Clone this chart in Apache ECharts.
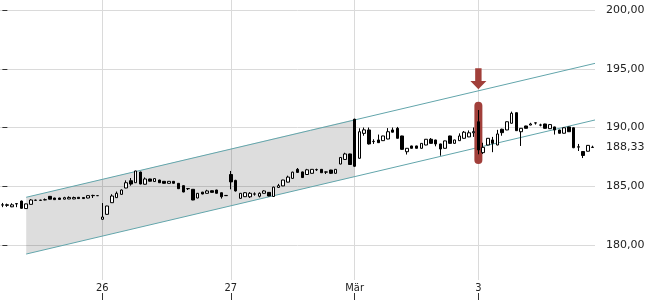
<!DOCTYPE html>
<html>
<head>
<meta charset="utf-8">
<script src="https://cdn.jsdelivr.net/npm/echarts@6/dist/echarts.min.js"></script>
<style>
    html, body { margin: 0; padding: 0; background: #fff; }
    #chart { width: 650px; height: 300px; }
</style>
</head>
<body>
<div id="chart"></div>
<script>
// one candle per slot: [open, close, low, high]
var candles = [
    [183.40, 183.42, 183.22, 183.58], [183.42, 183.38, 183.25, 183.52], [183.25, 183.42, 183.22, 183.55],
    [183.52, 183.50, 183.22, 183.55], [183.74, 183.12, 183.10, 183.78], [183.10, 183.50, 183.08, 183.52],
    [183.46, 183.83, 183.44, 183.90], [183.80, 183.82, 183.76, 183.86], [183.82, 183.80, 183.76, 183.85],
    [183.84, 183.86, 183.80, 183.96], [184.14, 183.90, 183.88, 184.16], [184.00, 183.86, 183.84, 184.02],
    [184.00, 183.88, 183.86, 184.02], [183.90, 184.03, 183.88, 184.10], [183.92, 184.05, 183.90, 184.14],
    [183.92, 184.04, 183.90, 184.12], [184.06, 183.95, 183.93, 184.08], [184.04, 183.95, 183.93, 184.06],
    [184.00, 184.20, 183.98, 184.22], [184.20, 184.22, 184.00, 184.28], [184.20, 184.20, 184.18, 184.22],
    // 26
    [182.19, 182.38, 182.17, 183.57], [182.61, 183.32, 182.59, 183.34], [183.60, 184.17, 183.58, 184.32],
    [184.03, 184.40, 184.01, 184.55], [184.31, 184.68, 184.29, 184.72], [184.85, 185.30, 184.83, 185.50],
    [185.47, 185.19, 185.05, 185.70], [185.30, 186.30, 185.28, 186.32], [186.21, 185.19, 185.17, 186.24],
    [185.17, 185.62, 185.15, 185.75], [185.62, 185.43, 185.41, 185.64], [185.40, 185.65, 185.38, 185.67],
    [185.53, 185.30, 185.28, 185.55], [185.42, 185.25, 185.23, 185.44], [185.25, 185.42, 185.23, 185.44],
    [185.42, 185.25, 185.23, 185.44], [185.25, 184.79, 184.77, 185.27], [185.05, 184.51, 184.49, 185.07],
    [184.80, 184.79, 184.68, 184.82], [184.74, 183.83, 183.81, 184.76], [184.00, 184.40, 183.98, 184.42],
    [184.50, 184.34, 184.32, 184.52], [184.40, 184.60, 184.38, 184.70], [184.62, 184.48, 184.46, 184.64],
    [184.68, 184.40, 184.38, 184.70], [184.45, 184.11, 183.95, 184.47], [184.20, 184.22, 184.18, 184.24],
    // 27
    [186.00, 185.37, 184.74, 186.30], [185.50, 184.60, 184.55, 185.55], [183.97, 184.40, 183.95, 184.42],
    [184.11, 184.45, 184.09, 184.50], [184.10, 184.40, 184.00, 184.50], [184.33, 184.35, 184.20, 184.48],
    [184.15, 184.40, 184.05, 184.48], [184.40, 184.60, 184.38, 184.66], [184.48, 184.17, 184.15, 184.50],
    [184.13, 184.93, 184.11, 184.96], [184.90, 185.05, 184.85, 185.20], [185.03, 185.53, 185.01, 185.55],
    [185.35, 185.78, 185.33, 185.90], [185.67, 186.20, 185.65, 186.24], [186.44, 186.18, 186.15, 186.55],
    [186.22, 185.74, 185.72, 186.25], [186.00, 186.40, 185.98, 186.48], [186.10, 186.44, 186.08, 186.46],
    [186.40, 186.42, 186.30, 186.50], [186.44, 186.15, 186.13, 186.46], [186.20, 186.22, 186.04, 186.26],
    [186.38, 186.10, 186.04, 186.40], [186.10, 186.44, 186.08, 186.46], [186.89, 187.45, 186.87, 187.47],
    [187.28, 187.75, 187.26, 187.85], [187.75, 186.85, 186.83, 187.77],
    // Mär
    [190.70, 186.70, 186.64, 190.75], [187.38, 189.64, 187.36, 189.93], [189.50, 189.80, 189.30, 190.00],
    [189.79, 188.60, 188.55, 190.00], [188.80, 188.82, 188.60, 189.00], [188.94, 188.71, 188.69, 189.40],
    [188.88, 189.28, 188.86, 189.30], [189.02, 189.64, 189.00, 189.95], [189.79, 189.60, 189.58, 190.00],
    [189.93, 189.08, 189.06, 190.05], [189.28, 188.14, 188.12, 189.30], [187.94, 188.23, 187.70, 188.25],
    [188.43, 188.23, 188.21, 188.45], [188.43, 188.23, 188.21, 188.45], [188.23, 188.65, 188.21, 188.67],
    [188.51, 189.00, 188.49, 189.02], [189.00, 188.65, 188.63, 189.10], [188.94, 188.60, 188.40, 188.96],
    [188.60, 188.17, 187.60, 188.62], [188.23, 188.86, 188.21, 188.88], [189.28, 188.65, 188.63, 189.30],
    [188.65, 188.94, 188.63, 188.96], [188.88, 189.28, 188.86, 189.50], [189.08, 189.60, 189.06, 189.70],
    [189.20, 189.55, 189.18, 189.75], [189.55, 189.65, 189.20, 190.00],
    // 3
    [190.49, 188.09, 187.72, 191.49], [187.86, 188.31, 187.75, 188.70], [188.51, 189.08, 188.49, 189.10],
    [188.94, 188.65, 187.90, 189.20], [188.51, 189.45, 188.49, 189.80], [189.85, 189.56, 189.30, 189.90],
    [189.79, 190.49, 189.77, 190.51], [190.36, 191.21, 190.34, 191.35], [191.26, 189.73, 189.71, 191.28],
    [189.64, 189.93, 188.43, 189.95], [190.13, 189.93, 189.91, 190.15], [190.21, 190.30, 190.19, 190.40],
    [190.38, 190.40, 190.25, 190.42], [190.20, 190.22, 190.10, 190.32], [190.30, 189.93, 189.91, 190.32],
    [189.90, 190.25, 189.88, 190.27], [190.05, 189.79, 189.40, 190.07], [189.79, 189.51, 189.49, 189.81],
    [189.51, 189.98, 189.49, 190.00], [190.05, 189.64, 189.62, 190.07], [189.98, 188.28, 188.24, 190.00],
    [188.33, 188.36, 188.00, 188.60], [187.96, 187.62, 187.40, 187.98], [187.98, 188.48, 187.96, 188.50],
    [188.30, 188.33, 188.28, 188.45]
];

var dayIndex = [21, 48, 74, 100];
var dayLabels = ['26', '27', 'Mär', '3'];
var lastPrice = 188.33;

// trend channel end points (x in candle slots)
var channelX = [5, 124.5];
var channelUpper = [184.06, 195.46];
var channelLower = [179.23, 190.64];
var shadeX = [5, 74];
var shadeUpper = [184.06, 190.70];
var shadeLower = [179.23, 185.80];

// signal candle
var signalIndex = 100;
var signalRange = [186.90, 192.20];
var arrowTip = 193.25;

var slots = candles.map(function (c, i) { return String(i); });
function isDayStart(i) { return dayIndex.indexOf(i) >= 0; }
function fmt(v) { return v.toFixed(2).replace('.', ','); }

var textColor = '#222';
var gridColor = '#dadada';
var channelColor = '#62a5ab';
var signalColor = '#a13f3a';

var chart = echarts.init(document.getElementById('chart'));

var option = {
    animation: false,
    grid: [
        { left: 0, right: 55, top: 10, bottom: 55 },
        { left: 2.38, right: 57.38, top: 0, bottom: 20 }
    ],
    xAxis: [
        { type: 'category', gridIndex: 0, position: 'bottom', data: slots, show: false },
        {
            type: 'category', gridIndex: 1, position: 'bottom', data: slots, boundaryGap: false,
            axisLine: { show: false },
            axisTick: { show: false },
            axisLabel: {
                interval: isDayStart,
                formatter: function (v, i) { return dayLabels[dayIndex.indexOf(i)] || ''; },
                margin: 3,
                fontSize: 11,
                fontFamily: "'DejaVu Sans Condensed', 'DejaVu Sans'",
                color: textColor
            },
            splitLine: { show: true, interval: isDayStart, lineStyle: { color: gridColor } }
        },
        {
            type: 'category', gridIndex: 1, position: 'bottom', data: slots, boundaryGap: false, offset: 13,
            axisLine: { show: false },
            axisTick: { show: true, interval: isDayStart, length: 7, lineStyle: { color: '#333' } },
            axisLabel: { show: false },
            splitLine: { show: false }
        },
        { type: 'value', gridIndex: 0, position: 'bottom', min: -0.5, max: candles.length - 0.5, show: false }
    ],
    yAxis: [
        {
            type: 'value', gridIndex: 0, position: 'right',
            min: 180, max: 200, interval: 5,
            axisLine: { show: false },
            axisTick: { show: true, length: 5, lineStyle: { color: '#333' } },
            axisLabel: {
                margin: 11, fontSize: 11, fontFamily: 'DejaVu Sans', color: textColor,
                formatter: fmt
            },
            splitLine: { lineStyle: { color: gridColor } }
        },
        { type: 'value', gridIndex: 1, show: false }
    ],
    series: [
        {
            name: 'shade',
            type: 'custom',
            xAxisIndex: 3,
            yAxisIndex: 0,
            z: 1,
            silent: true,
            clip: false,
            encode: { x: [0, 1], y: [2, 3, 4, 5] },
            data: [[shadeX[0], shadeX[1], shadeUpper[0], shadeUpper[1], shadeLower[0], shadeLower[1]]],
            renderItem: function (params, api) {
                var pts = [
                    api.coord([api.value(0), api.value(2)]),
                    api.coord([api.value(1), api.value(3)]),
                    api.coord([api.value(1), api.value(5)]),
                    api.coord([api.value(0), api.value(4)])
                ];
                return {
                    type: 'polygon',
                    shape: { points: pts },
                    style: { fill: 'rgba(0,0,0,0.135)' }
                };
            }
        },
        {
            name: 'upper',
            type: 'line',
            xAxisIndex: 3,
            yAxisIndex: 0,
            symbol: 'none',
            silent: true,
            clip: false,
            z: 2,
            lineStyle: { color: channelColor, width: 1 },
            data: [[channelX[0], channelUpper[0]], [channelX[1], channelUpper[1]]]
        },
        {
            name: 'lower',
            type: 'line',
            xAxisIndex: 3,
            yAxisIndex: 0,
            symbol: 'none',
            silent: true,
            clip: false,
            z: 2,
            lineStyle: { color: channelColor, width: 1 },
            data: [[channelX[0], channelLower[0]], [channelX[1], channelLower[1]]],
            markLine: {
                silent: true,
                symbol: ['none', 'none'],
                lineStyle: { width: 0, color: 'rgba(0,0,0,0)' },
                label: {
                    show: true, position: 'end', distance: 11,
                    fontSize: 11, fontFamily: 'DejaVu Sans', color: textColor,
                    formatter: fmt(lastPrice)
                },
                data: [{ yAxis: lastPrice }]
            }
        },
        {
            name: 'signal',
            type: 'custom',
            xAxisIndex: 0,
            yAxisIndex: 0,
            z: 3,
            silent: true,
            encode: { x: 0, y: [1, 2] },
            data: [[signalIndex, signalRange[1], signalRange[0]]],
            renderItem: function (params, api) {
                var top = api.coord([api.value(0), api.value(1)]);
                var bot = api.coord([api.value(0), api.value(2)]);
                return {
                    type: 'rect',
                    shape: { x: top[0] - 4, y: top[1], width: 8, height: bot[1] - top[1], r: 4 },
                    style: { fill: signalColor }
                };
            }
        },
        {
            name: 'kurs',
            type: 'candlestick',
            xAxisIndex: 0,
            yAxisIndex: 0,
            z: 4,
            barWidth: 3,
            clip: false,
            itemStyle: {
                color: '#fff',
                color0: '#000',
                borderColor: '#000',
                borderColor0: '#000',
                borderWidth: 1
            },
            data: candles,
            markPoint: {
                silent: true,
                symbol: 'path://M5,0L11,0L11,12.5L15.5,12.5L8,20.5L0.5,12.5L5,12.5Z',
                symbolSize: [16, 21],
                symbolOffset: [0, '-50%'],
                itemStyle: { color: signalColor },
                label: { show: false },
                data: [{ coord: [String(signalIndex), arrowTip] }]
            }
        }
    ]
};

chart.setOption(option);
</script>
</body>
</html>
